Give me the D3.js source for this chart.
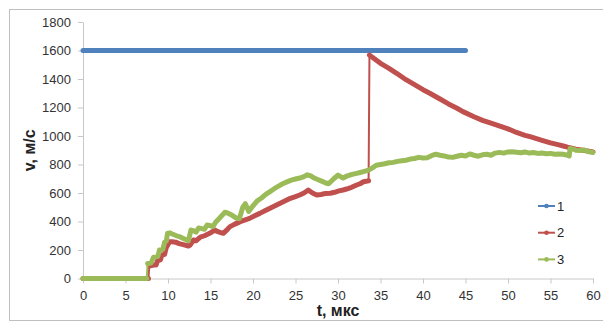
<!DOCTYPE html>
<html>
<head>
<meta charset="utf-8">
<script src="https://cdn.jsdelivr.net/npm/d3@7"></script>
<style>
  body { margin: 0; background: #fff; }
  text { font-family: "Liberation Sans", Arial, sans-serif; }
</style>
</head>
<body>
<svg id="chart" width="603" height="322"></svg>
<script>
// Axis ticks
const xTicks = [0, 5, 10, 15, 20, 25, 30, 35, 40, 45, 50, 55, 60];
const yTicks = [0, 200, 400, 600, 800, 1000, 1200, 1400, 1600, 1800];

// Series names and colours
const seriesNames = ["1", "2", "3"];
const seriesColors = ["#4f81bd", "#c0504d", "#9bbb59"];

// Series 1: constant speed
const s1T = [0, 5, 10, 15, 20, 25, 30, 35, 40, 45];
const s1V = [1600, 1600, 1600, 1600, 1600, 1600, 1600, 1600, 1600, 1600];

// Series 2
const s2T = [0, 2, 4, 6, 7.7, 7.8, 8.3, 8.6, 8.8, 9.1, 9.3, 9.6, 9.8, 10.2, 10.5, 10.9, 11.3, 11.8, 12.4,
  12.6, 13.0, 13.3, 13.8, 14.3, 14.9, 15.5, 15.8, 16.2, 16.5, 17.0, 17.3, 17.8, 18.5, 19.0, 19.6,
  20.2, 20.8, 21.4, 22.0, 22.6, 23.2, 23.8, 24.4, 25.0, 25.5, 26.0, 26.5, 27.0, 27.5, 28.0, 28.5,
  29.1, 29.6, 30.1, 30.6, 31.0, 31.6, 32.2, 32.6, 33.0, 33.3, 33.6,
  33.7, 34, 35, 36, 36.9, 38, 39, 40, 40.8, 42, 43, 44, 44.7, 46, 47, 48, 48.7, 50, 51, 52, 52.6,
  54, 55, 56, 56.5, 57, 58, 59, 60];
const s2V = [0, 0, 0, 0, 0, 88, 95, 95, 130, 130, 165, 170, 218, 258, 258, 255, 245, 238, 228,
  235, 270, 265, 290, 300, 317, 340, 330, 322, 317, 345, 364, 380, 399, 410, 422,
  440, 457, 475, 493, 510, 528, 545, 563, 575, 586, 600, 620, 600, 586, 590, 596,
  598, 605, 615, 621, 628, 640, 656, 665, 679, 682, 686,
  1568, 1555, 1510, 1475, 1440, 1395, 1360, 1325, 1300, 1260, 1225, 1195, 1171, 1135, 1110, 1090, 1077, 1050, 1025, 1005, 995,
  970, 952, 938, 930, 922, 908, 898, 888];

// Series 3
const s3T = [0, 2, 4, 6, 7.5, 7.6, 8.0, 8.3, 8.8, 9.0, 9.4, 9.6, 9.8, 9.95, 10.2, 10.5, 11.0, 11.5, 12.0, 12.4,
  12.7, 13.0, 13.3, 13.6, 14.0, 14.3, 14.6, 15.0, 15.3, 15.6, 16.0, 16.4, 16.7, 17.0, 17.5, 18.0, 18.4,
  18.8, 19.1, 19.5, 20.0, 20.5, 21.0, 21.5, 22.0, 22.5, 23.0, 23.5, 24.0, 24.5, 25.0, 25.5, 26.0, 26.4,
  26.8, 27.2, 27.6, 28.0, 28.5, 28.9, 29.5, 30.0, 30.6, 31.0, 31.4, 31.8, 32.2, 32.6, 33.0, 33.6,
  34.0, 34.5, 35.0, 35.5, 36.0, 36.5, 37.0, 37.5, 38.0, 38.5, 39.0, 39.5, 40.0, 40.5, 41.0, 41.5,
  42.0, 42.5, 43.0, 43.5, 44.0, 44.5, 45.0, 45.5, 46.0, 46.5, 47.0, 47.5, 48.0, 48.5, 49.0, 49.5,
  50.0, 50.5, 51.0, 51.5, 52.0, 52.5, 53.0, 53.5, 54.0, 54.5, 55.0, 55.5, 56.0, 56.5, 57.0, 57.2,
  57.3, 57.7, 58.0, 58.5, 59.0, 59.5, 60.0];
const s3V = [0, 0, 0, 0, 0, 105, 108, 150, 155, 200, 205, 255, 262, 318, 320, 312, 300, 290, 275, 265,
  340, 335, 325, 355, 350, 345, 375, 370, 365, 395, 420, 445, 465, 460, 445, 425, 420,
  500, 525, 470, 510, 545, 565, 590, 610, 630, 648, 665, 678, 690, 698, 705, 715, 728,
  720, 705, 695, 685, 672, 665, 700, 726, 705, 718, 726, 732, 738, 744, 750, 761,
  775, 795, 800, 805, 812, 815, 822, 826, 830, 838, 842, 850, 845, 848, 862, 872,
  865, 860, 852, 850, 858, 865, 860, 874, 865, 858, 868, 872, 865, 880, 885, 880,
  888, 890, 886, 882, 888, 880, 884, 878, 880, 876, 878, 872, 874, 872, 865, 860,
  912, 908, 900, 898, 902, 890, 885];

const svg = d3.select("#chart");

// Outer chart frame
svg.append("rect")
  .attr("x", 9.5).attr("y", 9.5).attr("width", 600).attr("height", 311)
  .attr("fill", "#fff").attr("stroke", "#bfbfbf").attr("stroke-width", 1);

const x = d3.scaleLinear().domain([0, 60]).range([83, 593]);
const y = d3.scaleLinear().domain([0, 1800]).range([278.5, 22]);

// X axis
const gx = svg.append("g").attr("transform", `translate(0,${y(0)})`)
  .call(d3.axisBottom(x).tickValues(xTicks).tickFormat(d3.format("d"))
    .tickSize(5).tickSizeOuter(0).tickPadding(7));
// Y axis
const gy = svg.append("g").attr("transform", `translate(${x(0)},0)`)
  .call(d3.axisLeft(y).tickValues(yTicks).tickFormat(d3.format("d"))
    .tickSize(5).tickSizeOuter(0).tickPadding(7));

[gx, gy].forEach(g => {
  g.select(".domain").attr("stroke", "#c8c8c8");
  g.selectAll(".tick line").attr("stroke", "#c8c8c8");
  g.selectAll(".tick text").attr("fill", "#333").attr("font-size", 13)
    .attr("font-family", "\"Liberation Sans\", Arial, sans-serif");
});

// Axis titles
svg.append("text")
  .attr("x", (x(0) + x(60)) / 2).attr("y", 316)
  .attr("text-anchor", "middle").attr("font-size", 16).attr("font-weight", "bold").attr("fill", "#222")
  .text("t, мкс");
svg.append("text")
  .attr("transform", `translate(35,${(y(0) + y(1800)) / 2}) rotate(-90)`)
  .attr("text-anchor", "middle").attr("font-size", 16).attr("font-weight", "bold").attr("fill", "#222")
  .text("v, м/с");

// Series: thin connector through every point, dense marker band along each continuous run
const plot = svg.append("g");
function drawSeries(T, V, color) {
  const pts = T.map((t, i) => [x(t), y(V[i])]);
  const line = d3.line();
  plot.append("path").attr("d", line(pts))
    .attr("fill", "none").attr("stroke", color).attr("stroke-width", 2);
  const runs = [[pts[0]]];
  for (let i = 1; i < pts.length; i++) {
    const dx = pts[i][0] - pts[i - 1][0];
    const dy = Math.abs(pts[i][1] - pts[i - 1][1]);
    if (dx < 2 && dy > 12) runs.push([pts[i]]);
    else runs[runs.length - 1].push(pts[i]);
  }
  runs.forEach(r => {
    plot.append("path").attr("d", line(r.length > 1 ? r : [r[0], r[0]]))
      .attr("fill", "none").attr("stroke", color).attr("stroke-width", 5)
      .attr("stroke-linejoin", "round").attr("stroke-linecap", "round");
  });
}
drawSeries(s1T, s1V, seriesColors[0]);
drawSeries(s2T, s2V, seriesColors[1]);
drawSeries(s3T, s3V, seriesColors[2]);

// Legend
const legend = svg.append("g");
seriesNames.forEach((name, i) => {
  const cy = 206 + i * 26.7;
  legend.append("line").attr("x1", 538).attr("x2", 555).attr("y1", cy).attr("y2", cy)
    .attr("stroke", seriesColors[i]).attr("stroke-width", 2);
  legend.append("circle").attr("cx", 546.5).attr("cy", cy).attr("r", 2.3).attr("fill", seriesColors[i]);
  legend.append("text").attr("x", 557).attr("y", cy + 4.7)
    .attr("font-size", 13).attr("fill", "#222").text(name);
});
</script>
</body>
</html>
